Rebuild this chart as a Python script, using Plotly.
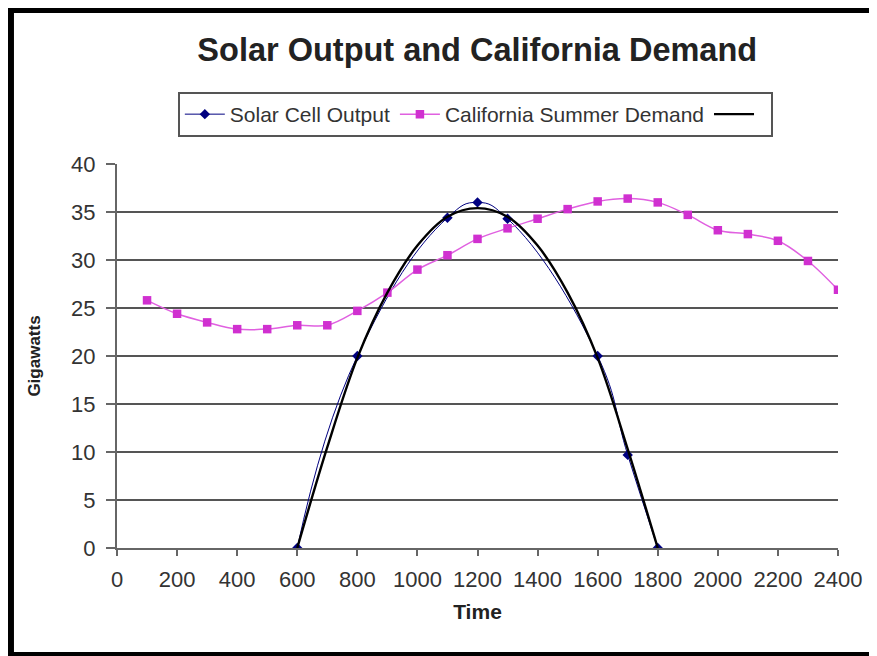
import plotly.graph_objects as go

# ---- data ----
demand_time = [100, 200, 300, 400, 500, 600, 700, 800, 900, 1000, 1100, 1200,
               1300, 1400, 1500, 1600, 1700, 1800, 1900, 2000, 2100, 2200, 2300, 2400]
demand_gw = [25.8, 24.4, 23.5, 22.8, 22.8, 23.2, 23.2, 24.7, 26.6, 29.0, 30.5, 32.2,
             33.3, 34.3, 35.3, 36.1, 36.4, 36.0, 34.7, 33.1, 32.7, 32.0, 29.9, 26.9]

solar_time = [600, 800, 1100, 1200, 1300, 1600, 1700, 1800]
solar_gw = [0, 20.0, 34.4, 36.0, 34.3, 20.0, 9.7, 0]

trend_time = [600, 700, 800, 900, 1000, 1100, 1200, 1300, 1400, 1500, 1600, 1700, 1800]
trend_gw = [0, 10.5, 19.8, 26.6, 31.5, 34.5, 35.4, 34.5, 31.5, 26.6, 19.8, 10.3, 0]

x_ticks = list(range(0, 2401, 200))
y_ticks = list(range(0, 41, 5))

FONT = "Liberation Sans, Arial, sans-serif"

fig = go.Figure()
fig.add_trace(go.Scatter(
    x=solar_time, y=solar_gw, name="Solar Cell Output",
    mode="lines+markers", line=dict(color="#000080", width=1, shape="spline", smoothing=1.3),
    marker=dict(symbol="diamond", size=8, color="#000080"),
))
fig.add_trace(go.Scatter(
    x=demand_time, y=demand_gw, name="California Summer Demand",
    mode="lines+markers", line=dict(color="#e060e0", width=1.5, shape="spline"),
    marker=dict(symbol="square", size=8.5, color="#d030d0"),
))
fig.add_trace(go.Scatter(
    x=trend_time, y=trend_gw, name=" ",
    mode="lines", line=dict(color="black", width=2.4, shape="spline"),
))

# black photo frame (left, top, bottom bands)
frame = dict(type="rect", xref="paper", yref="paper", fillcolor="black", line=dict(width=0), layer="above")
shapes = [
    dict(frame, x0=-0.1526, x1=-0.1429, y0=-0.2812, y1=1.4167),
    dict(frame, x0=-0.1526, x1=1.1, y0=1.3932, y1=1.4167),
    dict(frame, x0=-0.1526, x1=1.1, y0=-0.2812, y1=-0.2708),
]

fig.update_layout(
    width=869, height=648,
    margin=dict(l=109, r=39, t=156, b=108),
    paper_bgcolor="white", plot_bgcolor="white",
    font=dict(family=FONT, color="#333333", size=21),
    title=dict(text="<b>Solar Output and California Demand</b>", x=0.540, xanchor="center",
               y=0.935, yanchor="middle", yref="container",
               font=dict(family=FONT, size=32.5, color="#222222")),
    showlegend=True,
    legend=dict(orientation="h", x=0.497, xanchor="center", y=1.1875, yanchor="top",
                bordercolor="#555555", borderwidth=2, bgcolor="white",
                font=dict(family=FONT, size=21, color="#333333"),
                itemwidth=40, tracegroupgap=0),
    xaxis=dict(range=[0, 2400], tickmode="array", tickvals=x_ticks,
               showgrid=False, zeroline=False,
               showline=True, linecolor="#666666", linewidth=2,
               ticks="outside", ticklen=6, tickwidth=2, tickcolor="#666666",
               ticklabelstandoff=5,
               tickfont=dict(family=FONT, size=22, color="#333333"),
               title=dict(text="<b>Time</b>", standoff=13,
                          font=dict(family=FONT, size=21, color="#222222"))),
    yaxis=dict(range=[0, 40], tickmode="array", tickvals=y_ticks,
               showgrid=True, gridcolor="#555555", gridwidth=2, zeroline=False,
               showline=True, linecolor="#666666", linewidth=2,
               ticks="outside", ticklen=9, tickwidth=2, tickcolor="#666666",
               ticklabelstandoff=6,
               tickfont=dict(family=FONT, size=22, color="#333333"),
               title=dict(text="<b>Gigawatts</b>", standoff=26,
                          font=dict(family=FONT, size=17, color="#222222"))),
    shapes=shapes,
)

fig.write_html("out.html")
